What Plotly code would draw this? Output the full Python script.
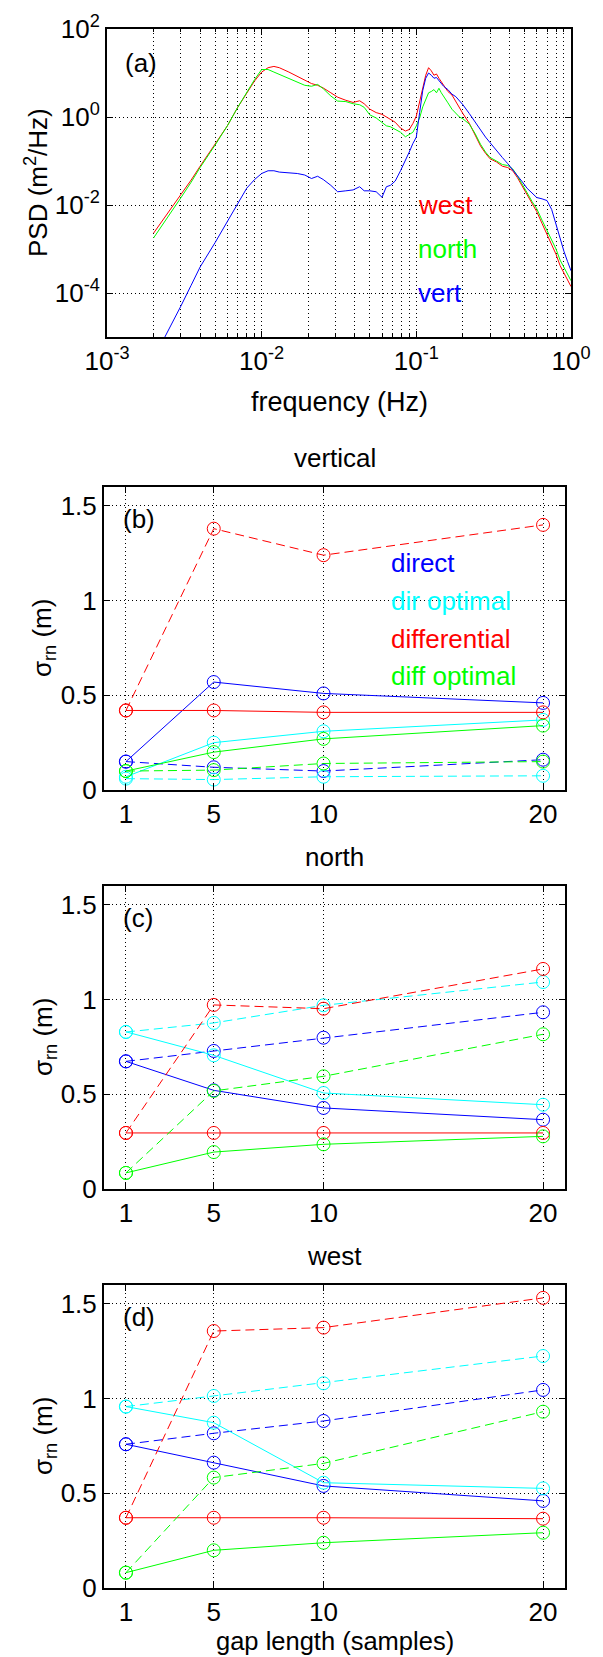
import plotly.graph_objects as go

# ---------------- panel (a) data ----------------
freq = [0.002, 0.0025, 0.003, 0.0035, 0.004, 0.005, 0.006, 0.007, 0.008, 0.009,
        0.010, 0.011, 0.012, 0.013, 0.015, 0.017, 0.019, 0.021, 0.023, 0.025,
        0.028, 0.031, 0.035, 0.039, 0.043, 0.046, 0.05, 0.055, 0.06, 0.064,
        0.068, 0.073, 0.079, 0.085, 0.09, 0.095, 0.1, 0.105, 0.11, 0.115,
        0.12, 0.125, 0.13, 0.135, 0.14, 0.145, 0.15, 0.16, 0.17, 0.18,
        0.19, 0.2, 0.22, 0.24, 0.26, 0.28, 0.3, 0.33, 0.36, 0.39,
        0.42, 0.45, 0.48, 0.52, 0.56, 0.6, 0.65, 0.7, 0.75, 0.8,
        0.85, 0.9, 0.95, 1.0]

psd_west = [2.29e-3, 6.8e-3, 1.7e-2, 3.7e-2, 7.6e-2, 0.24, 0.63, 1.66, 3.55, 6.6,
            10.5, 13.2, 14.1, 13.2, 10.5, 8.3, 6.9, 5.75, 5.25, 4.57,
            3.55, 2.82, 2.4, 2.14, 2.34, 2.0, 1.51, 1.26, 1.15, 1.0,
            0.89, 0.76, 0.56, 0.48, 0.52, 0.71, 1.05, 2.24, 5.0, 8.9,
            13.2, 11.2, 8.9, 9.5, 7.6, 6.3, 5.25, 3.8, 3.16, 2.24,
            1.58, 1.2, 0.72, 0.38, 0.22, 0.15, 0.112, 0.095, 0.076, 0.071,
            0.060, 0.042, 0.028, 0.0166, 0.0105, 0.0071, 0.0038, 0.0021, 0.0012, 7.6e-4,
            4.2e-4, 2.8e-4, 2.0e-4, 1.4e-4]

psd_north = [1.78e-3, 5.5e-3, 1.45e-2, 3.3e-2, 7.1e-2, 0.23, 0.63, 1.66, 3.55, 7.1,
             12.0, 12.0, 10.5, 9.3, 7.6, 6.3, 5.25, 5.0, 5.5, 4.4,
             3.0, 2.3, 2.24, 2.0, 1.9, 1.66, 1.12, 0.95, 0.76, 0.63,
             0.60, 0.52, 0.45, 0.355, 0.40, 0.45, 0.63, 0.95, 1.7, 2.5,
             3.55, 3.8, 4.2, 3.55, 4.5, 3.55, 3.0, 2.1, 1.5, 1.2,
             1.0, 0.91, 0.69, 0.42, 0.24, 0.16, 0.12, 0.10, 0.083, 0.079,
             0.066, 0.046, 0.032, 0.019, 0.012, 0.0083, 0.0045, 0.0026, 0.0016, 1.0e-3,
             5.6e-4, 3.8e-4, 2.7e-4, 1.9e-4]

psd_vert = [3.2e-6, 1.4e-5, 5.0e-5, 1.5e-4, 3.9e-4, 1.4e-3, 4.2e-3, 1.1e-2, 2.4e-2, 3.8e-2,
            5.2e-2, 6.0e-2, 6.0e-2, 5.6e-2, 5.4e-2, 5.2e-2, 4.8e-2, 4.0e-2, 4.5e-2, 3.8e-2,
            2.8e-2, 2.0e-2, 2.1e-2, 2.2e-2, 2.6e-2, 2.1e-2, 2.1e-2, 2.0e-2, 1.5e-2, 2.6e-2,
            2.8e-2, 3.5e-2, 6.0e-2, 0.10, 0.16, 0.25, 0.35, 1.26, 4.0, 7.6,
            10.0, 8.9, 7.6, 7.9, 6.6, 5.6, 5.0, 4.2, 3.3, 2.9,
            2.4, 1.9, 1.2, 0.76, 0.50, 0.35, 0.26, 0.17, 0.12, 0.087,
            0.063, 0.048, 0.035, 0.024, 0.019, 0.0148, 0.0138, 0.0126, 0.0079, 0.0035,
            0.0017, 8.9e-4, 5.2e-4, 3.2e-4]

freq_ticks = [0.001, 0.01, 0.1, 1]
freq_ticktext = ["10<sup>-3</sup>", "10<sup>-2</sup>", "10<sup>-1</sup>", "10<sup>0</sup>"]
psd_ticks = [1e-4, 1e-2, 1, 100]
psd_ticktext = ["10<sup>-4</sup>", "10<sup>-2</sup>", "10<sup>0</sup>", "10<sup>2</sup>"]

# ---------------- panels (b)-(d) data ----------------
gap = [1, 5, 10, 20]
gap_ticks = [1, 5, 10, 20]
sigma_ticks = [0, 0.5, 1, 1.5]
sigma_ticktext = ["0", "0.5", "1", "1.5"]

# vertical
vert_direct = [0.15, 0.57, 0.51, 0.46]
vert_direct_d = [0.15, 0.12, 0.10, 0.16]
vert_diropt = [0.07, 0.25, 0.31, 0.37]
vert_diropt_d = [0.06, 0.055, 0.07, 0.075]
vert_diff = [0.42, 0.42, 0.41, 0.41]
vert_diff_d = [0.42, 1.38, 1.24, 1.40]
vert_diffopt = [0.10, 0.20, 0.27, 0.34]
vert_diffopt_d = [0.10, 0.105, 0.14, 0.15]

# north
north_direct = [0.674, 0.521, 0.428, 0.366]
north_direct_d = [0.674, 0.729, 0.799, 0.933]
north_diropt = [0.83, 0.706, 0.507, 0.445]
north_diropt_d = [0.829, 0.877, 0.970, 1.093]
north_diff = [0.296, 0.296, 0.296, 0.296]
north_diff_d = [0.296, 0.972, 0.952, 1.162]
north_diffopt = [0.085, 0.195, 0.236, 0.278]
north_diffopt_d = [0.085, 0.518, 0.595, 0.817]

# west
west_direct = [0.759, 0.662, 0.539, 0.46]
west_direct_d = [0.759, 0.817, 0.882, 1.046]
west_diropt = [0.958, 0.873, 0.556, 0.526]
west_diropt_d = [0.958, 1.014, 1.081, 1.225]
west_diff = [0.371, 0.371, 0.371, 0.366]
west_diff_d = [0.371, 1.357, 1.375, 1.532]
west_diffopt = [0.081, 0.199, 0.239, 0.292]
west_diffopt_d = [0.081, 0.583, 0.658, 0.931]

legend_labels = ["direct", "dir optimal", "differential", "diff optimal"]
legend_y = [1.2, 1.0, 0.8, 0.6]

BLUE, CYAN, RED, GREEN = "#0000ff", "#00ffff", "#ff0000", "#00ff00"
FONT = "Liberation Sans"
FS = 26
W, H = 603, 1657

fig = go.Figure()

# panel (a)
for y, c in [(psd_west, RED), (psd_north, GREEN), (psd_vert, BLUE)]:
    fig.add_trace(go.Scatter(x=freq, y=y, mode="lines", line=dict(color=c, width=1),
                             xaxis="x", yaxis="y", showlegend=False))

panels = [
    ("2", [(vert_direct, vert_direct_d, BLUE), (vert_diropt, vert_diropt_d, CYAN),
           (vert_diff, vert_diff_d, RED), (vert_diffopt, vert_diffopt_d, GREEN)]),
    ("3", [(north_direct, north_direct_d, BLUE), (north_diropt, north_diropt_d, CYAN),
           (north_diff, north_diff_d, RED), (north_diffopt, north_diffopt_d, GREEN)]),
    ("4", [(west_direct, west_direct_d, BLUE), (west_diropt, west_diropt_d, CYAN),
           (west_diff, west_diff_d, RED), (west_diffopt, west_diffopt_d, GREEN)]),
]
for ax, series in panels:
    for solid, dashed, c in series:
        for vals, dash in [(solid, "solid"), (dashed, "9px,5px")]:
            fig.add_trace(go.Scatter(
                x=gap, y=vals, mode="lines+markers",
                line=dict(color=c, width=1, dash=dash),
                marker=dict(symbol="circle-open", size=13, color=c, line=dict(width=1, color=c)),
                xaxis="x" + ax, yaxis="y" + ax, showlegend=False, cliponaxis=False))

def px_dom_x(a, b):
    return [a / W, b / W]

def px_dom_y(top, bottom):
    return [1 - bottom / H, 1 - top / H]

GRIDDASH = "1px,3px"
grid = dict(showgrid=True, gridcolor="#000000", griddash=GRIDDASH, gridwidth=1)
axline = dict(showline=True, linecolor="black", linewidth=2, mirror="allticks",
              ticks="inside", ticklen=6, tickcolor="black", zeroline=False,
              automargin=False,
              tickfont=dict(family=FONT, size=FS, color="black"))

layout = dict(
    width=W, height=H, margin=dict(l=0, r=0, t=0, b=0, autoexpand=False),
    paper_bgcolor="white", plot_bgcolor="white", showlegend=False,
    font=dict(family=FONT, size=FS, color="black"),
    xaxis=dict(type="log", range=[-3, 0], tickvals=freq_ticks, ticktext=freq_ticktext,
               domain=px_dom_x(107, 571), anchor="y",
               minor=dict(dtick="D1", ticks="inside", ticklen=3, tickcolor="black",
                          showgrid=True, gridcolor="#000000", griddash=GRIDDASH, gridwidth=1),
               **grid, **axline),
    yaxis=dict(type="log", range=[-5, 2], tickvals=psd_ticks, ticktext=psd_ticktext,
               domain=px_dom_y(29, 337), anchor="x", **grid, **axline),
)
tops = {"2": 487, "3": 886, "4": 1285}
for ax, top in tops.items():
    layout["xaxis" + ax] = dict(range=[0, 21], tickvals=gap_ticks, domain=px_dom_x(104, 565),
                                anchor="y" + ax, **grid, **axline)
    layout["yaxis" + ax] = dict(range=[0, 1.6], tickvals=sigma_ticks, ticktext=sigma_ticktext,
                                domain=px_dom_y(top, top + 303), anchor="x" + ax, **grid, **axline)
fig.update_layout(**layout)

ann = []
def add_text(text, x, y, xref="paper", yref="paper", xanchor="center", yanchor="middle",
             color="black", angle=0, size=FS):
    ann.append(dict(text=text, x=x, y=y, xref=xref, yref=yref, xanchor=xanchor,
                    yanchor=yanchor, showarrow=False, textangle=angle,
                    font=dict(family=FONT, size=size, color=color)))

# panel (a) texts
add_text("(a)", 0.035, 0.89, "x domain", "y domain", xanchor="left")
for lab, yv, c in [("west", -2, RED), ("north", -3, GREEN), ("vert", -4, BLUE)]:
    add_text(lab, -1, yv, "x", "y", xanchor="left", color=c)
add_text("frequency (Hz)", 339 / W, 1 - 402 / H, size=27)
add_text("PSD (m<sup>2</sup>/Hz)", 36 / W, 1 - 183 / H, angle=-90)

titles = {"2": "vertical", "3": "north", "4": "west"}
letters = {"2": "(b)", "3": "(c)", "4": "(d)"}
for ax, top in tops.items():
    add_text(titles[ax], 334.5 / W, 1 - (top - 29) / H)
    add_text(letters[ax], 0.036, 0.895, "x%s domain" % ax, "y%s domain" % ax, xanchor="left")
    add_text("σ<sub>rn</sub> (m)", 44 / W, 1 - (top + 151) / H, angle=-90)
for lab, yv, c in zip(legend_labels, legend_y, [BLUE, CYAN, RED, GREEN]):
    add_text(lab, 13, yv, "x2", "y2", xanchor="left", color=c)
add_text("gap length (samples)", 334.5 / W, 1 - 1641 / H, size=25.5)

fig.update_layout(annotations=ann)
fig.write_html("out.html", config={"displayModeBar": False},
               post_script="document.body.style.margin='0';document.body.style.overflow='hidden';")
